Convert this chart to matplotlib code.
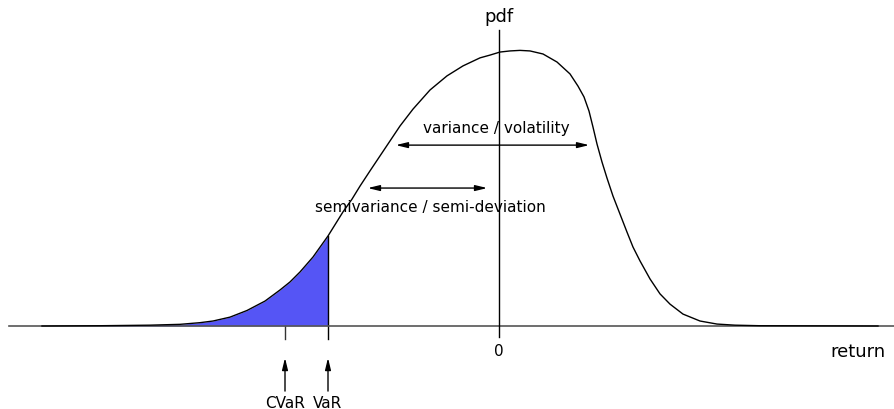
import numpy as np
import matplotlib.pyplot as plt

# --- data (return in arbitrary units, pdf height normalised to peak) ---
ret = [-4.57, -3.99, -3.49, -3.19, -2.99, -2.86, -2.69, -2.52, -2.34, -2.19,
       -2.09, -1.99, -1.86, -1.71, -1.56, -1.47, -1.39, -1.29, -1.19, -1.09,
       -0.99, -0.86, -0.69, -0.52, -0.36, -0.19, -0.09, 0.01, 0.11, 0.21,
       0.31, 0.44, 0.58, 0.71, 0.79, 0.85, 0.90, 0.94, 0.98, 1.03,
       1.08, 1.14, 1.21, 1.28, 1.34, 1.41, 1.51, 1.61, 1.71, 1.84,
       2.01, 2.18, 2.36, 2.61, 3.79]
pdf = [0.0, 0.001, 0.003, 0.006, 0.012, 0.018, 0.032, 0.056, 0.090, 0.130,
       0.159, 0.195, 0.249, 0.325, 0.412, 0.458, 0.505, 0.560, 0.614, 0.668,
       0.722, 0.783, 0.852, 0.903, 0.939, 0.968, 0.978, 0.989, 0.993, 0.995,
       0.993, 0.982, 0.953, 0.910, 0.866, 0.827, 0.776, 0.718, 0.657, 0.592,
       0.534, 0.469, 0.404, 0.339, 0.285, 0.235, 0.170, 0.116, 0.079, 0.043,
       0.018, 0.007, 0.003, 0.001, 0.0]

var_level = -1.71
cvar_level = -2.14

fig = plt.figure(figsize=(8.94, 4.10), dpi=100)
ax = fig.add_axes([0, 0, 1, 1])
ax.set_xlim(-4.99, 3.95)
ax.set_ylim(-83 / 277, 327 / 277)
ax.axis('off')

x = np.array(ret)
y = np.array(pdf)

# shaded tail left of VaR
mask = x <= var_level
xf = np.append(x[mask], var_level)
yf = np.append(y[mask], np.interp(var_level, x, y))
ax.fill_between(xf, 0, yf, color='#5555f5', linewidth=0)
ax.plot([var_level, var_level], [-0.047, np.interp(var_level, x, y)], color='black', lw=1)
ax.plot([cvar_level, cvar_level], [-0.047, 0], color='#333333', lw=1)

# axes
ax.plot([-4.90, 3.95], [0, 0], color='#555555', lw=1.2)
ax.plot([0, 0], [-0.04, 1.07], color='black', lw=1)

# pdf curve
ax.plot(x, y, color='black', lw=1, solid_joinstyle='round')

# labels
fs = 11
ax.text(0, 1.12, 'pdf', ha='center', va='center', fontsize=13)
ax.text(3.59, -0.09, 'return', ha='center', va='center', fontsize=13)
ax.text(0, -0.09, '0', ha='center', va='center', fontsize=fs)

double_head = '<|-|>,head_length=0.7,head_width=0.17'
single_head = '-|>,head_length=0.7,head_width=0.17'

# variance arrows
ax.annotate('', xy=(-1.06, 0.653), xytext=(0.93, 0.653),
            arrowprops=dict(arrowstyle=double_head, color='black', lw=1, mutation_scale=10))
ax.text(-0.03, 0.715, 'variance / volatility', ha='center', va='center', fontsize=fs)

ax.annotate('', xy=(-1.34, 0.498), xytext=(-0.09, 0.498),
            arrowprops=dict(arrowstyle=double_head, color='black', lw=1, mutation_scale=10))
ax.text(-0.69, 0.43, 'semivariance / semi-deviation', ha='center', va='center', fontsize=fs)

# CVaR / VaR markers
for lvl, name in [(cvar_level, 'CVaR'), (var_level, 'VaR')]:
    ax.annotate('', xy=(lvl, -0.105), xytext=(lvl, -0.245),
                arrowprops=dict(arrowstyle=single_head, color='black', lw=1, mutation_scale=10))
    ax.text(lvl, -0.275, name, ha='center', va='center', fontsize=fs)

plt.savefig('out.png', dpi=100)
